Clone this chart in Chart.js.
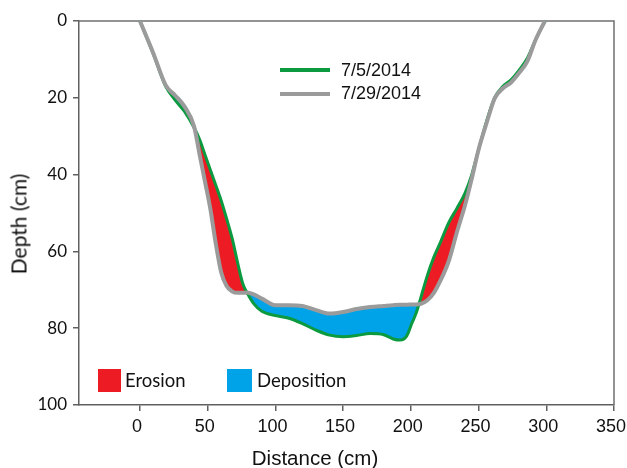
<!DOCTYPE html>
<html>
<head>
<meta charset="utf-8">
<script src="https://cdn.jsdelivr.net/npm/chart.js@4/dist/chart.umd.min.js"></script>
<style>
  html, body { margin: 0; padding: 0; background: #ffffff; }
  #wrap { position: relative; width: 627px; height: 468px; overflow: hidden; background: #fff; }
  canvas { position: absolute; left: 0; top: 0; }
  .txt { position: absolute; white-space: nowrap; color: #111; }
  .sans { font-family: "Liberation Sans", Arial, sans-serif; }
  .hum { font-family: Lato, "Open Sans", sans-serif; }
  .sw { position: absolute; }
</style>
</head>
<body>
<div id="wrap">
  <canvas id="c" width="627" height="468"></canvas>
  <div class="sw" style="left:280px;top:67.5px;width:50px;height:4px;background:#0b9a3f;"></div>
  <div class="txt sans" style="left:341px;top:60.5px;font-size:18px;line-height:18px;">7/5/2014</div>
  <div class="sw" style="left:280px;top:91.5px;width:50px;height:4px;background:#9b9b9b;"></div>
  <div class="txt sans" style="left:341px;top:84px;font-size:18px;line-height:18px;">7/29/2014</div>
  <div class="sw" style="left:98px;top:369px;width:23px;height:23px;background:#ed1c24;"></div>
  <div class="txt hum" style="left:125px;top:371px;font-size:18.5px;line-height:18.5px;">Erosion</div>
  <div class="sw" style="left:227px;top:369px;width:25px;height:23px;background:#00a2e8;"></div>
  <div class="txt hum" style="left:257px;top:371px;font-size:18.5px;line-height:18.5px;">Deposition</div>
  <div class="txt sans" style="left:315px;top:447.5px;font-size:20.5px;line-height:20.5px;transform:translateX(-50%);">Distance (cm)</div>
  <div class="txt hum" style="left:17.6px;top:223.5px;font-size:21px;line-height:21px;transform:translate(-50%,-50%) rotate(-90deg);">Depth (cm)</div>
</div>
<script>
// Data
const distance = [0, 10, 19, 26, 33, 40, 44, 48, 52, 56, 60, 64, 68, 72, 76, 79, 84, 90, 100, 110, 120, 130, 140, 150, 160, 170, 180, 187, 192, 197, 201, 204, 207, 212, 217, 222, 228, 234, 240, 245, 250, 256, 262, 268, 274, 280, 286, 292, 299];
const depthJul5 = [0, 8.7, 17, 20.6, 23.6, 27.8, 30.8, 34.8, 38.8, 42.8, 46.8, 51.5, 56.5, 62.8, 68.5, 70.7, 73.6, 75.6, 76.7, 77.4, 78.8, 80.5, 81.8, 82.2, 81.9, 81.4, 81.7, 82.8, 83.1, 82, 78.5, 76, 72.5, 66.5, 61.5, 57.5, 52.5, 48.8, 44.8, 40, 33.5, 26, 19.9, 17, 15.3, 12.8, 9.7, 5, 0];
const depthJul29 = [0, 8.5, 16.7, 19.4, 22.3, 27.5, 34.7, 41.8, 49, 58, 65.5, 69, 70.4, 70.8, 70.8, 70.7, 71.2, 72.3, 74, 74, 74.2, 75.3, 76.2, 75.8, 75, 74.5, 74.2, 74, 73.9, 73.9, 73.8, 73.8, 73.7, 72.8, 70.8, 67.5, 62.5, 55, 48, 41, 33.5, 26.5, 20.1, 17.5, 16, 13.5, 10.5, 5, 0];
const xTicks = [0, 50, 100, 150, 200, 250, 300, 350];
const yTicks = [0, 20, 40, 60, 80, 100];
const seriesLabels = ['7/29/2014', '7/5/2014'];

const toPoints = (ys) => distance.map((x, i) => ({ x: x, y: ys[i] }));

const framePlugin = {
  id: 'frame',
  beforeDatasetsDraw(chart) {
    const a = chart.chartArea, ctx = chart.ctx;
    ctx.save();
    ctx.strokeStyle = '#707070';
    ctx.lineWidth = 1.5;
    ctx.beginPath();
    ctx.moveTo(a.left, a.top);
    ctx.lineTo(a.right, a.top);
    ctx.lineTo(a.right, a.bottom);
    ctx.stroke();
    ctx.restore();
  }
};

new Chart(document.getElementById('c'), {
  type: 'line',
  data: {
    datasets: [
      {
        label: seriesLabels[0],
        data: toPoints(depthJul29),
        borderColor: '#9b9b9b',
        borderWidth: 4,
        pointRadius: 0,
        cubicInterpolationMode: 'monotone',
        fill: false,
        clip: 6
      },
      {
        label: seriesLabels[1],
        data: toPoints(depthJul5),
        borderColor: '#0b9a3f',
        borderWidth: 3,
        pointRadius: 0,
        cubicInterpolationMode: 'monotone',
        fill: { target: 0, above: '#ed1c24', below: '#00a2e8' },
        clip: 6
      }
    ]
  },
  options: {
    responsive: false,
    animation: false,
    devicePixelRatio: 1,
    layout: { padding: { left: 0, right: 13, top: 21, bottom: 0 } },
    plugins: { legend: { display: false }, tooltip: { enabled: false }, title: { display: false } },
    scales: {
      x: {
        type: 'linear',
        min: -45,
        max: 350,
        afterBuildTicks: (s) => { s.ticks = xTicks.map(v => ({ value: v })); },
        afterFit: (s) => { s.height = 63; s.paddingLeft = 0; s.paddingRight = 0; },
        grid: { display: true, drawOnChartArea: false, drawTicks: true, tickLength: 6, color: '#606060', lineWidth: 1.5 },
        border: { display: true, color: '#606060', width: 1.5 },
        ticks: {
          autoSkip: false, maxRotation: 0, padding: 5, labelOffset: -3,
          color: '#111',
          font: { family: '"Liberation Sans", Arial, sans-serif', size: 18, lineHeight: 1.2 },
          callback: (v) => String(v)
        },
        title: { display: false }
      },
      y: {
        type: 'linear',
        min: 0,
        max: 100,
        reverse: true,
        afterBuildTicks: (s) => { s.ticks = yTicks.map(v => ({ value: v })); },
        afterFit: (s) => { s.width = 79; s.paddingTop = 0; s.paddingBottom = 0; },
        grid: { display: true, drawOnChartArea: false, drawTicks: true, tickLength: 6, color: '#606060', lineWidth: 1.5 },
        border: { display: true, color: '#606060', width: 1.5 },
        ticks: {
          autoSkip: false, padding: 6,
          color: '#111',
          font: { family: 'Lato, "Open Sans", sans-serif', size: 17 },
          callback: (v) => String(v)
        },
        title: { display: false }
      }
    }
  },
  plugins: [framePlugin]
});
</script>
</body>
</html>
